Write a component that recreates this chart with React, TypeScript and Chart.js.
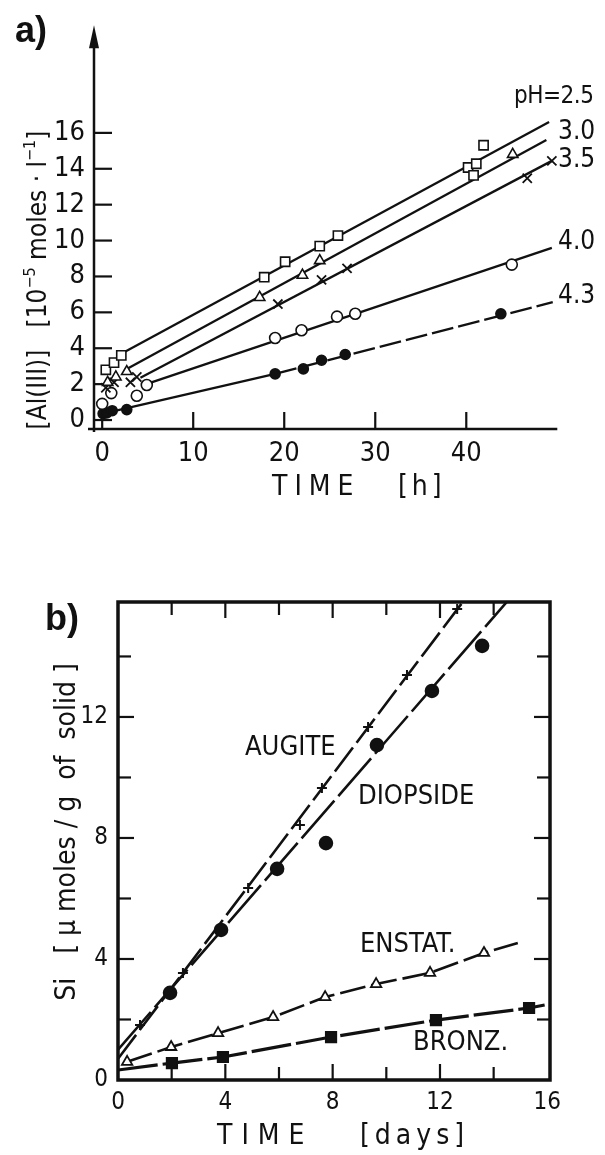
import React, { useEffect, useRef } from "react";
import { Chart, registerables } from "chart.js";

Chart.register(...registerables);

const FONT = '"Liberation Sans Narrow", "DejaVu Sans Condensed", "Arial Narrow", sans-serif';
const INK = "#111111";

// ---------------- Panel a: [Al(III)] (1e-5 mol/l) vs time (h) ----------------
const aXTicks = [0, 10, 20, 30, 40];
const aYTicks = [0, 2, 4, 6, 8, 10, 12, 14, 16];

const ph25Time = [0.4, 1.3, 2.1, 17.8, 20.1, 23.9, 25.9, 40.2, 41.1, 40.8, 41.9];
const ph25Al = [2.8, 3.2, 3.6, 7.96, 8.82, 9.69, 10.28, 14.07, 14.28, 13.63, 15.31];
const ph30Time = [0.6, 1.5, 2.7, 17.3, 22.0, 23.9, 45.1];
const ph30Al = [2.1, 2.4, 2.7, 6.83, 8.07, 8.88, 14.8];
const ph35Time = [0.4, 1.3, 3.1, 3.8, 19.3, 24.1, 26.9, 46.7, 49.4];
const ph35Al = [1.8, 2.1, 2.1, 2.4, 6.46, 7.81, 8.45, 13.47, 14.44];
const ph40Time = [0.0, 1.0, 3.8, 4.9, 19.0, 21.9, 25.8, 27.8, 45.0];
const ph40Al = [0.9, 1.5, 1.35, 1.95, 4.57, 5.0, 5.76, 5.92, 8.66];
const ph43Time = [0.1, 0.5, 1.1, 2.7, 19.0, 22.1, 24.1, 26.7, 43.8];
const ph43Al = [0.36, 0.4, 0.52, 0.58, 2.57, 2.85, 3.33, 3.65, 5.92];

// fitted straight lines drawn in the figure
const ph25LineTime = [2.5, 49.1];
const ph25LineAl = [3.8, 16.6];
const ph30LineTime = [2.7, 48.8];
const ph30LineAl = [2.84, 15.6];
const ph35LineTime = [4.2, 49.4];
const ph35LineAl = [2.36, 14.44];
const ph40LineTime = [5.0, 49.4];
const ph40LineAl = [2.03, 9.59];
const ph43LineTime = [0.1, 19.0, 49.5];
const ph43LineAl = [0.36, 2.57, 6.57];

const phLabels = ["pH=2.5", "3.0", "3.5", "4.0", "4.3"];

// ---------------- Panel b: Si (µmol/g) vs time (days) ----------------
const bXTicks = [0, 4, 8, 12, 16];
const bYTicks = [0, 4, 8, 12];
const bMinorTicks = [2, 4, 6, 8, 10, 12, 14];

const augiteDays = [0.82, 2.42, 4.85, 6.78, 7.6, 9.32, 10.77, 12.64];
const augiteSi = [1.82, 3.54, 6.35, 8.43, 9.65, 11.67, 13.39, 15.57];
const diopsideDays = [1.94, 3.84, 5.93, 7.75, 9.65, 11.7, 13.57];
const diopsideSi = [2.88, 4.96, 6.98, 7.83, 11.07, 12.86, 14.35];
const enstatDays = [0.34, 1.98, 3.73, 5.78, 7.72, 9.62, 11.63, 13.64];
const enstatSi = [0.6, 1.09, 1.55, 2.08, 2.74, 3.17, 3.54, 4.2];
const bronzDays = [2.01, 3.91, 7.94, 11.85, 15.32];
const bronzSi = [0.56, 0.76, 1.42, 1.98, 2.38];

const augiteLineDays = [0, 12.85];
const augiteLineSi = [0.7, 15.8];
const diopsideLineDays = [0, 14.49];
const diopsideLineSi = [1.0, 15.8];
const enstatLineDays = [0.34, 1.98, 3.73, 5.78, 7.72, 9.62, 11.63, 13.64, 14.9];
const enstatLineSi = [0.6, 1.09, 1.55, 2.08, 2.74, 3.17, 3.54, 4.2, 4.53];
const bronzLineDays = [0, 2.01, 3.91, 7.94, 11.85, 15.32, 15.9];
const bronzLineSi = [0.33, 0.56, 0.76, 1.42, 1.98, 2.38, 2.48];

const mineralLabels = ["AUGITE", "DIOPSIDE", "ENSTAT.", "BRONZ."];

// ---------------- helpers ----------------
const pts = (xs: number[], ys: number[]) => xs.map((v, i) => ({ x: v, y: ys[i] }));

const marker = (data: any, style: string, r: number, fill: string, bw = 1.6) => ({
  data,
  showLine: false,
  pointStyle: style,
  pointRadius: r,
  pointHoverRadius: r,
  pointBorderColor: INK,
  pointBackgroundColor: fill,
  pointBorderWidth: bw,
  borderColor: INK,
  backgroundColor: fill,
  order: 0,
});

const fitLine = (data: any, width: number, dash: number[] = [], extra: any = {}) => ({
  data,
  showLine: true,
  pointRadius: 0,
  pointHoverRadius: 0,
  borderColor: INK,
  borderWidth: width,
  borderDash: dash,
  fill: false,
  tension: 0,
  order: 1,
  ...extra,
});

type Seg = { t: string; sup?: boolean };

function drawRich(
  ctx: CanvasRenderingContext2D,
  segs: Seg[],
  x: number,
  y: number,
  size: number,
  rot: number,
  align: "left" | "center"
) {
  ctx.save();
  ctx.translate(x, y);
  ctx.rotate(rot);
  ctx.textBaseline = "alphabetic";
  ctx.textAlign = "left";
  ctx.fillStyle = INK;
  const fontFor = (s: Seg) => `${s.sup ? Math.round(size * 0.62) : size}px ${FONT}`;
  const widths = segs.map((s) => {
    ctx.font = fontFor(s);
    return ctx.measureText(s.t).width;
  });
  const total = widths.reduce((a, b) => a + b, 0);
  let cx = align === "center" ? -total / 2 : 0;
  segs.forEach((s, i) => {
    ctx.font = fontFor(s);
    ctx.fillText(s.t, cx, s.sup ? -size * 0.42 : 0);
    cx += widths[i];
  });
  ctx.restore();
}

function drawText(
  ctx: CanvasRenderingContext2D,
  text: string,
  x: number,
  y: number,
  font: string,
  spacing = 0,
  baseline: CanvasTextBaseline = "middle"
) {
  ctx.save();
  ctx.font = font;
  ctx.fillStyle = INK;
  ctx.textAlign = "left";
  ctx.textBaseline = baseline;
  (ctx as any).letterSpacing = `${spacing}px`;
  ctx.fillText(text, x, y);
  ctx.restore();
}

const line = (ctx: CanvasRenderingContext2D, x1: number, y1: number, x2: number, y2: number) => {
  ctx.beginPath();
  ctx.moveTo(x1, y1);
  ctx.lineTo(x2, y2);
  ctx.stroke();
};

// ---------------- plugins ----------------
const panelAPlugin = {
  id: "panelA",
  beforeDatasetsDraw(chart: any) {
    const { ctx, chartArea: ca, scales } = chart;
    const xs = scales.x;
    const ys = scales.y;
    ctx.save();
    ctx.strokeStyle = INK;
    ctx.fillStyle = INK;
    ctx.lineWidth = 2.5;
    const x0 = ca.left;
    const yb = ca.bottom;
    line(ctx, x0, yb + 3, x0, ca.top + 14);
    ctx.beginPath();
    ctx.moveTo(x0, ca.top);
    ctx.lineTo(x0 - 5, ca.top + 23);
    ctx.lineTo(x0 + 5, ca.top + 23);
    ctx.closePath();
    ctx.fill();
    line(ctx, x0 - 6, yb, ca.right, yb);
    ctx.lineWidth = 2.2;
    aYTicks.forEach((v) => {
      const py = ys.getPixelForValue(v);
      line(ctx, x0, py, x0 + 18, py);
    });
    aXTicks.forEach((v) => {
      const px = xs.getPixelForValue(v);
      line(ctx, px, yb, px, yb - 17);
    });
    ctx.restore();
  },
  afterDraw(chart: any) {
    const { ctx } = chart;
    drawText(ctx, "a)", 15, 42, 'bold 36px "Liberation Sans", Arial, sans-serif', 0, "alphabetic");
    drawRich(
      ctx,
      [
        { t: "[Al(III)]   [10" },
        { t: "\u22125", sup: true },
        { t: " moles \u00b7 l" },
        { t: "\u22121", sup: true },
        { t: "]" },
      ],
      46,
      280,
      26,
      -Math.PI / 2,
      "center"
    );
    drawText(ctx, "TIME", 272, 488, `28px ${FONT}`, 7);
    drawText(ctx, "[h]", 398, 488, `28px ${FONT}`, 4);
    const pos = [
      [514, 97],
      [558, 132],
      [558, 160],
      [558, 242],
      [558, 296],
    ];
    phLabels.forEach((t, i) =>
      drawText(ctx, t, pos[i][0], pos[i][1], `${i === 0 ? 24 : 26}px ${FONT}`, i === 0 ? -0.5 : 0)
    );
  },
};

const panelBPlugin = {
  id: "panelB",
  afterDatasetsDraw(chart: any) {
    const { ctx, chartArea: ca, scales } = chart;
    const xs = scales.x;
    const ys = scales.y;
    ctx.save();
    ctx.strokeStyle = INK;
    ctx.lineWidth = 3.5;
    ctx.strokeRect(ca.left, ca.top, ca.right - ca.left, ca.bottom - ca.top);
    ctx.lineWidth = 2.2;
    bMinorTicks.forEach((v) => {
      const major = v % 4 === 0;
      const len = major ? 16 : 13;
      const px = xs.getPixelForValue(v);
      line(ctx, px, ca.bottom, px, ca.bottom - len);
      line(ctx, px, ca.top, px, ca.top + len);
      const py = ys.getPixelForValue(v);
      if (v < 15.8) {
        line(ctx, ca.left, py, ca.left + len, py);
        line(ctx, ca.right, py, ca.right - len, py);
      }
    });
    ctx.restore();
  },
  afterDraw(chart: any) {
    const { ctx } = chart;
    drawText(ctx, "b)", 45, 110, 'bold 36px "Liberation Sans", Arial, sans-serif', 0, "alphabetic");
    drawRich(ctx, [{ t: "Si   [ \u03bc moles / g  of  solid ]" }], 75, 312, 28, -Math.PI / 2, "center");
    drawText(ctx, "TIME", 217, 617, `28px ${FONT}`, 9);
    drawText(ctx, "[days]", 360, 617, `28px ${FONT}`, 5);
    const pos = [
      [245, 228],
      [358, 277],
      [360, 425],
      [413, 523],
    ];
    mineralLabels.forEach((t, i) => drawText(ctx, t, pos[i][0], pos[i][1], `27px ${FONT}`));
  },
};

function axisCommon(ticks: number[], size: number, padding: number) {
  return {
    type: "linear" as const,
    grid: { display: false, drawTicks: false },
    border: { display: false },
    afterBuildTicks: (s: any) => {
      s.ticks = ticks.map((v) => ({ value: v }));
    },
    ticks: {
      padding,
      color: INK,
      autoSkip: false,
      maxRotation: 0,
      font: { family: FONT, size },
      callback: (v: any) => String(v),
    },
  };
}

function configA(): any {
  return {
    type: "scatter",
    data: {
      datasets: [
        marker(pts(ph25Time, ph25Al), "rect", 6.5, "#ffffff"),
        marker(pts(ph30Time, ph30Al), "triangle", 6, "#ffffff"),
        marker(pts(ph35Time, ph35Al), "crossRot", 6.5, "#ffffff", 1.8),
        marker(pts(ph40Time, ph40Al), "circle", 5.5, "#ffffff"),
        marker(pts(ph43Time, ph43Al), "circle", 5, INK),
        fitLine(pts(ph25LineTime, ph25LineAl), 2.3),
        fitLine(pts(ph30LineTime, ph30LineAl), 2.3),
        fitLine(pts(ph35LineTime, ph35LineAl), 2.3),
        fitLine(pts(ph40LineTime, ph40LineAl), 2.3),
        fitLine(pts(ph43LineTime, ph43LineAl), 2.3, [], {
          segment: { borderDash: (c: any) => (c.p0DataIndex === 0 ? undefined : [22, 5]) },
        }),
      ],
    },
    options: {
      animation: false,
      responsive: false,
      events: [],
      layout: { padding: { top: 12, right: 47.7, left: 0, bottom: 0 } },
      plugins: { legend: { display: false }, tooltip: { enabled: false } },
      scales: {
        x: {
          ...axisCommon(aXTicks, 27, 9),
          min: -0.9,
          max: 50,
          afterFit: (s: any) => {
            s.height = 91;
          },
        },
        y: {
          ...axisCommon(aYTicks, 27, 9),
          min: -0.5,
          max: 22,
          afterFit: (s: any) => {
            s.width = 94;
          },
        },
      },
    },
    plugins: [panelAPlugin],
  };
}

function configB(): any {
  return {
    type: "scatter",
    data: {
      datasets: [
        marker(pts(augiteDays, augiteSi), "cross", 5, INK, 2),
        marker(pts(diopsideDays, diopsideSi), "circle", 6.5, INK),
        marker(pts(enstatDays, enstatSi), "triangle", 6, "#ffffff", 1.8),
        marker(pts(bronzDays, bronzSi), "rect", 7.5, INK),
        fitLine(pts(augiteLineDays, augiteLineSi), 2.6, [30, 6]),
        fitLine(pts(diopsideLineDays, diopsideLineSi), 2.6, [50, 6]),
        fitLine(pts(enstatLineDays, enstatLineSi), 2.6, [26, 6]),
        fitLine(pts(bronzLineDays, bronzLineSi), 3.2, [40, 5]),
      ],
    },
    options: {
      animation: false,
      responsive: false,
      events: [],
      layout: { padding: { top: 82, right: 55, left: 0, bottom: 0 } },
      plugins: { legend: { display: false }, tooltip: { enabled: false } },
      scales: {
        x: {
          ...axisCommon(bXTicks, 24, 8),
          min: 0,
          max: 16.1,
          afterFit: (s: any) => {
            s.height = 75;
          },
        },
        y: {
          ...axisCommon(bYTicks, 24, 10),
          min: 0,
          max: 15.8,
          afterFit: (s: any) => {
            s.width = 118;
          },
        },
      },
    },
    plugins: [panelBPlugin],
  };
}

export default function App() {
  const refA = useRef<HTMLCanvasElement>(null);
  const refB = useRef<HTMLCanvasElement>(null);

  useEffect(() => {
    const a = new Chart(refA.current as HTMLCanvasElement, configA());
    const b = new Chart(refB.current as HTMLCanvasElement, configB());
    return () => {
      a.destroy();
      b.destroy();
    };
  }, []);

  return (
    <div style={{ position: "absolute", left: 0, top: 0, width: 605, height: 1155, background: "#ffffff" }}>
      <canvas
        ref={refA}
        width={605}
        height={520}
        style={{ position: "absolute", left: 0, top: 0, width: 605, height: 520, display: "block" }}
      />
      <canvas
        ref={refB}
        width={605}
        height={635}
        style={{ position: "absolute", left: 0, top: 520, width: 605, height: 635, display: "block" }}
      />
    </div>
  );
}
